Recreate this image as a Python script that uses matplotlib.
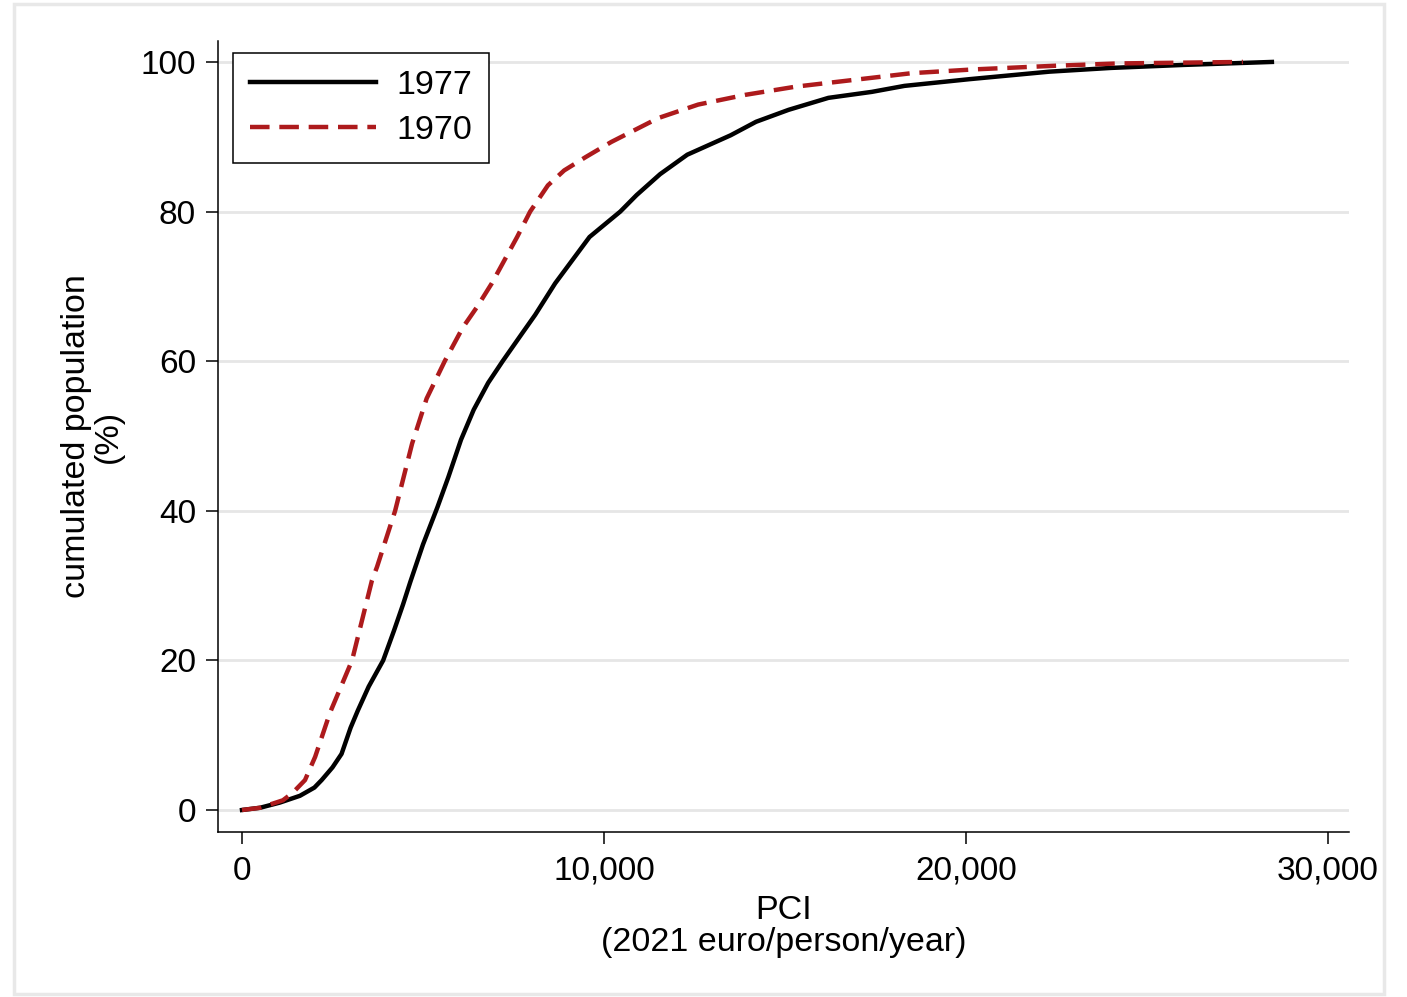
# Cumulative distribution of the population by per-capita income (PCI), 1970 vs 1977

import numpy as np
import matplotlib.pyplot as plt
from matplotlib.patches import Rectangle

# Helvetica-like look
plt.rcParams.update({"font.family": ["Liberation Sans", "DejaVu Sans"]})

# Data (PCI in 2021 euro, cumulated population in %)
pci_1977 = [0, 500, 1050, 1600, 2000, 2200, 2500, 2750, 3000, 3200, 3500, 3900,
            4200, 4450, 4650, 5000, 5400, 5700, 6050, 6400, 6800, 7200, 7750,
            8100, 8650, 9600, 10450, 10900, 11550, 12300, 13500, 14200, 15100,
            16200, 17400, 18300, 20100, 22300, 24000, 26000, 28450]
pop_1977 = [0, 0.3, 1.0, 1.9, 3.0, 4.0, 5.7, 7.5, 11.0, 13.3, 16.5, 20.0,
            24.0, 27.5, 30.5, 35.5, 40.5, 44.5, 49.5, 53.5, 57.1, 60.0, 63.8,
            66.2, 70.4, 76.6, 80.0, 82.2, 85.0, 87.6, 90.2, 92.0, 93.6,
            95.2, 96.0, 96.8, 97.7, 98.7, 99.2, 99.6, 100.0]

pci_1970 = [0, 500, 1130, 1400, 1740, 2020, 2430, 3040, 3590, 3730, 4030, 4230,
            4700, 5100, 5600, 6100, 6500, 6900, 7600, 7960, 8450, 8900, 9500,
            10200, 11500, 12600, 13900, 15300, 16900, 18500, 20200, 22500,
            24200, 27650]
pop_1970 = [0, 0.3, 1.3, 2.3, 4.0, 7.1, 13.0, 20.0, 30.7, 32.5, 37.0, 40.0,
            49.0, 55.0, 60.0, 64.5, 67.3, 70.4, 76.6, 80.0, 83.5, 85.5, 87.3,
            89.3, 92.5, 94.3, 95.6, 96.7, 97.6, 98.5, 99.0, 99.5,
            99.8, 100.0]

x_ticks = [0, 10000, 20000, 30000]
x_tick_labels = ["0", "10,000", "20,000", "30,000"]
y_ticks = [0, 20, 40, 60, 80, 100]

red = '#ad1a1c'

fig = plt.figure(figsize=(14.07, 9.97), dpi=100)
ax = fig.add_axes([218/1407, 1 - 832/997, 1131/1407, 791/997])

# Curves (1970 drawn on top)
ax.plot(pci_1977, pop_1977, color='black', lw=3.2, label='1977', zorder=3)
ax.plot(pci_1970, pop_1970, color=red, lw=3.2, ls=(0, (4.4, 2.2)), label='1970', zorder=4)

# Axes ranges and ticks
ax.set_xlim(-663, 30580)
ax.set_ylim(-2.94, 102.8)
ax.set_xticks(x_ticks)
ax.set_xticklabels(x_tick_labels)
ax.set_yticks(y_ticks)
ax.tick_params(axis='both', length=8.6, width=1.1, labelsize=24)
ax.tick_params(axis='x', pad=8.6)
ax.tick_params(axis='y', pad=7.2)

# Light horizontal grid, only left/bottom spines
ax.grid(axis='y', color='#e6e6e6', lw=2, zorder=0)
ax.set_axisbelow(True)
for side in ['top', 'right']:
    ax.spines[side].set_visible(False)
for side in ['left', 'bottom']:
    ax.spines[side].set_linewidth(1.1)

ax.set_xlabel("PCI\n(2021 euro/person/year)", fontsize=24.5, linespacing=1.05, labelpad=6)
ax.set_ylabel("cumulated population\n(%)", fontsize=24.5, linespacing=1.05, labelpad=12)

# Legend box in the upper left corner
leg = ax.legend(loc='upper left', bbox_to_anchor=(0.0133, 0.9848), borderaxespad=0,
                fontsize=24.5, handlelength=3.7, handletextpad=0.6, labelspacing=0.42,
                borderpad=0.5, fancybox=False, framealpha=1)
leg.get_frame().set_edgecolor('black')
leg.get_frame().set_linewidth(1.1)

# Faint outer frame around the whole graph
fig.patches.append(Rectangle((14/1407, 3/997), 1370/1407, 990/997, transform=fig.transFigure,
                             fill=False, ec='#e8e8e8', lw=2.5))

fig.savefig('out.png', dpi=100)
